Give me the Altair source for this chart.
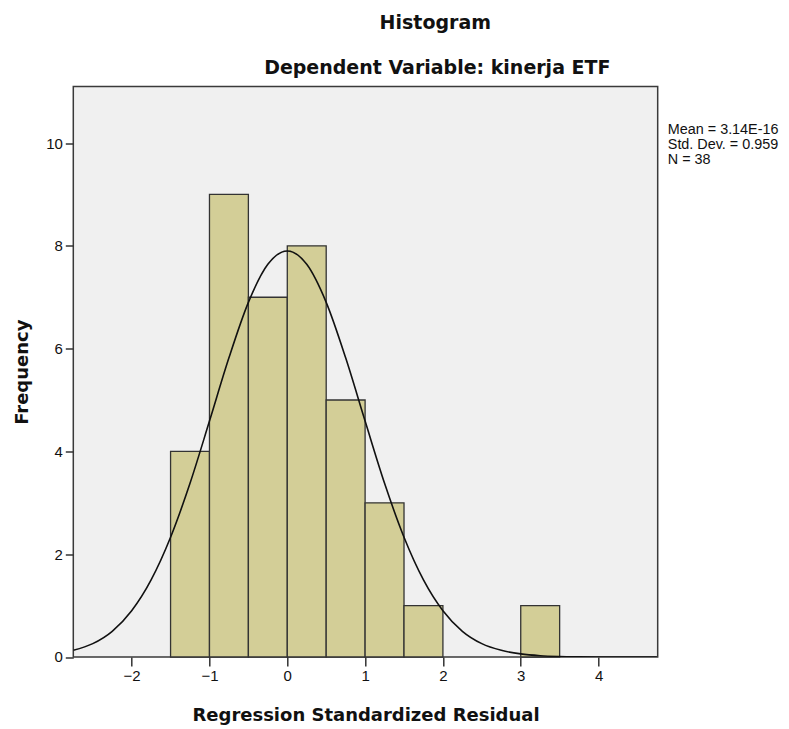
import altair as alt
import pandas as pd

# Histogram bins (Regression Standardized Residual)
bin_start = [-1.5, -1.0, -0.5, 0.0, 0.5, 1.0, 1.5, 3.0]
bin_end = [-1.0, -0.5, 0.0, 0.5, 1.0, 1.5, 2.0, 3.5]
counts = [4, 9, 7, 8, 5, 3, 1, 1]

# Normal curve
curve_x = [-2.75, -2.5, -2.25, -2.0, -1.75, -1.5, -1.25, -1.0, -0.75, -0.5, -0.25, 0.0,
           0.25, 0.5, 0.75, 1.0, 1.25, 1.5, 1.75, 2.0, 2.25, 2.5, 2.75, 3.0, 3.25, 3.5,
           3.75, 4.0, 4.25, 4.5, 4.75]
curve_y = [0.13, 0.26, 0.50, 0.90, 1.50, 2.33, 3.38, 4.59, 5.82, 6.90, 7.64, 7.90,
           7.64, 6.90, 5.82, 4.59, 3.38, 2.33, 1.50, 0.90, 0.50, 0.26, 0.13, 0.06, 0.025, 0.01,
           0.004, 0.001, 0.0, 0.0, 0.0]

x_ticks = [-2, -1, 0, 1, 2, 3, 4]
y_ticks = [0, 2, 4, 6, 8, 10]

title_text = "Histogram"
subtitle_text = "Dependent Variable: kinerja ETF"
stats_text = "Mean = 3.14E-16\nStd. Dev. = 0.959\nN = 38"
x_title = "Regression Standardized Residual"
y_title = "Frequency"

bars_df = pd.DataFrame({"start": bin_start, "end": bin_end, "count": counts})
curve_df = pd.DataFrame({"x": curve_x, "y": curve_y})

xscale = alt.Scale(domain=[-2.75, 4.76], nice=False, zero=False)
yscale = alt.Scale(domain=[0, 11.1], nice=False)

label_font = "Liberation Sans"
title_font = "DejaVu Sans"

xaxis = alt.Axis(values=x_ticks, format="d", title=x_title, grid=False, domain=False,
                 tickSize=9, tickColor="#333333", tickWidth=1.5,
                 labelFont=label_font, labelFontSize=15, labelColor="#111111", labelPadding=3,
                 titleFont=title_font, titleFontSize=18, titleFontWeight="bold", titleColor="#111111",
                 titleY=64, titleBaseline="alphabetic")
yaxis = alt.Axis(values=y_ticks, format="d", title=y_title, grid=False, domain=False,
                 tickSize=8, tickColor="#333333", tickWidth=1.5,
                 labelFont=label_font, labelFontSize=15, labelColor="#111111", labelPadding=3,
                 titleFont=title_font, titleFontSize=18, titleFontWeight="bold", titleColor="#111111",
                 titleX=-51, titleBaseline="middle", titleAngle=-90)

bars = alt.Chart(bars_df).mark_rect(fill="#D3CE97", stroke="#333333", strokeWidth=1.3).encode(
    x=alt.X("start:Q", scale=xscale, axis=xaxis),
    x2="end:Q",
    y=alt.Y("count:Q", scale=yscale, axis=yaxis),
    y2=alt.datum(0),
)

curve = alt.Chart(curve_df).mark_line(color="#111111", strokeWidth=1.6, interpolate="monotone", clip=True).encode(
    x=alt.X("x:Q", scale=xscale),
    y=alt.Y("y:Q", scale=yscale),
)

title = alt.Chart(pd.DataFrame({"t": [title_text]})).mark_text(
    font=title_font, fontSize=19, fontWeight="bold", color="#111111",
    align="center", baseline="alphabetic").encode(
    text="t:N", x=alt.value(362), y=alt.value(-57.5))
subtitle = alt.Chart(pd.DataFrame({"t": [subtitle_text]})).mark_text(
    font=title_font, fontSize=19, fontWeight="bold", color="#111111",
    align="center", baseline="alphabetic").encode(
    text="t:N", x=alt.value(364), y=alt.value(-12.5))
stats = alt.Chart(pd.DataFrame({"t": [stats_text]})).mark_text(
    font=label_font, fontSize=14.4, color="#111111", align="left", baseline="alphabetic",
    lineBreak="\n", lineHeight=15.5).encode(
    text="t:N", x=alt.value(594.5), y=alt.value(47))

chart = alt.layer(bars, curve, title, subtitle, stats).properties(
    width=584.4, height=570.5,
    autosize=alt.AutoSizeParams(type="none"),
    padding={"left": 65.3, "top": 78.5, "right": 123, "bottom": 70},
    background="white",
).configure_view(
    fill="#F0F0F0", stroke="#3a3a3a", strokeWidth=1.5
)

chart.save("out.html", embed_options={"renderer": "svg", "actions": False})
